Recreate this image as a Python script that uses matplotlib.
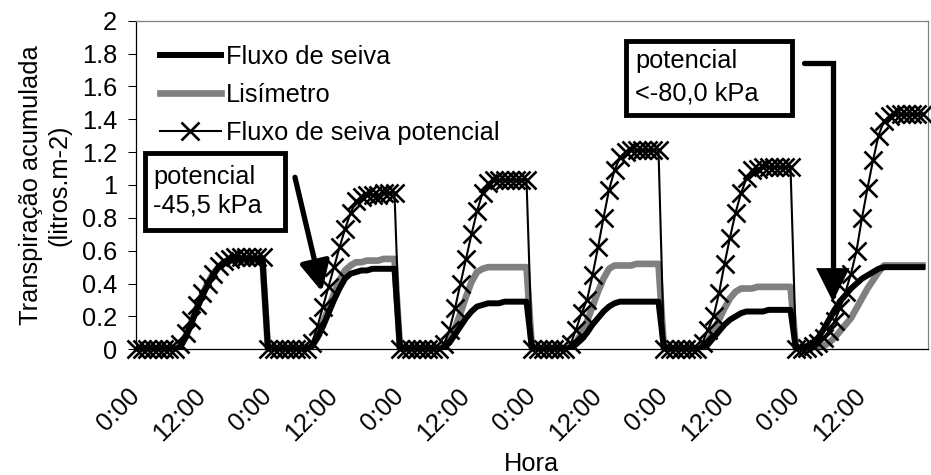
import numpy as np
import matplotlib
matplotlib.use('Agg')
import matplotlib.pyplot as plt
from matplotlib.patches import Rectangle, FancyArrowPatch
from matplotlib.path import Path
from matplotlib.ticker import FuncFormatter

plt.rcParams['font.family'] = 'Liberation Sans'
plt.rcParams['font.size'] = 18.3

# cumulative daily transpiration (litros.m-2), hourly values, 6 days from 0:00
fluxo = [
    0, 0, 0, 0, 0, 0, 0, 0, 0.01, 0.07, 0.15, 0.24, 0.32, 0.39, 0.45, 0.50, 0.53, 0.55, 0.55, 0.55, 0.55, 0.55, 0.55, 0.55,
    0, 0, 0, 0, 0, 0, 0, 0, 0.02, 0.07, 0.14, 0.22, 0.30, 0.37, 0.43, 0.46, 0.47, 0.48, 0.48, 0.49, 0.49, 0.49, 0.49, 0.49,
    0, 0, 0, 0, 0, 0, 0, 0, 0.01, 0.04, 0.09, 0.14, 0.19, 0.23, 0.26, 0.27, 0.28, 0.28, 0.28, 0.29, 0.29, 0.29, 0.29, 0.29,
    0, 0, 0, 0, 0, 0, 0, 0.01, 0.03, 0.06, 0.10, 0.15, 0.19, 0.23, 0.26, 0.28, 0.29, 0.29, 0.29, 0.29, 0.29, 0.29, 0.29, 0.29,
    0, 0, 0, 0, 0, 0, 0, 0.01, 0.03, 0.07, 0.11, 0.15, 0.18, 0.20, 0.22, 0.23, 0.23, 0.23, 0.23, 0.24, 0.24, 0.24, 0.24, 0.24,
    0, 0.01, 0.02, 0.04, 0.07, 0.12, 0.18, 0.24, 0.29, 0.33, 0.37, 0.40, 0.43, 0.45, 0.47, 0.49, 0.50, 0.50, 0.50, 0.50, 0.50, 0.50, 0.50, 0.50,
]
lisimetro = [
    0, 0, 0, 0, 0, 0, 0, 0, 0.02, 0.08, 0.16, 0.25, 0.33, 0.40, 0.46, 0.50, 0.53, 0.54, 0.54, 0.54, 0.54, 0.54, 0.54, 0.54,
    0, 0, 0, 0, 0, 0, 0, 0, 0.02, 0.08, 0.16, 0.25, 0.34, 0.42, 0.48, 0.51, 0.53, 0.53, 0.54, 0.54, 0.54, 0.55, 0.55, 0.55,
    0, 0, 0, 0, 0, 0, 0, 0, 0.02, 0.06, 0.13, 0.22, 0.32, 0.41, 0.47, 0.49, 0.50, 0.50, 0.50, 0.50, 0.50, 0.50, 0.50, 0.50,
    0, 0, 0, 0, 0, 0, 0, 0.01, 0.04, 0.10, 0.17, 0.26, 0.35, 0.43, 0.49, 0.51, 0.51, 0.51, 0.51, 0.52, 0.52, 0.52, 0.52, 0.52,
    0, 0, 0, 0, 0, 0, 0, 0.01, 0.05, 0.11, 0.18, 0.25, 0.31, 0.35, 0.37, 0.37, 0.37, 0.38, 0.38, 0.38, 0.38, 0.38, 0.38, 0.38,
    0, 0, 0, 0, 0, 0.02, 0.04, 0.07, 0.11, 0.15, 0.19, 0.25, 0.31, 0.37, 0.42, 0.47, 0.51, 0.51, 0.51, 0.51, 0.51, 0.51, 0.51, 0.51,
]
potencial = [
    0, 0, 0, 0, 0, 0, 0, 0, 0.03, 0.10, 0.18, 0.27, 0.34, 0.40, 0.46, 0.51, 0.54, 0.55, 0.56, 0.56, 0.56, 0.56, 0.56, 0.56,
    0, 0, 0, 0, 0, 0, 0, 0, 0.04, 0.14, 0.26, 0.38, 0.50, 0.62, 0.73, 0.83, 0.90, 0.93, 0.94, 0.94, 0.94, 0.95, 0.95, 0.95,
    0, 0, 0, 0, 0, 0, 0, 0, 0.03, 0.12, 0.25, 0.40, 0.55, 0.70, 0.84, 0.95, 1.01, 1.03, 1.03, 1.03, 1.03, 1.03, 1.03, 1.03,
    0, 0, 0, 0, 0, 0, 0, 0.03, 0.12, 0.22, 0.30, 0.45, 0.62, 0.80, 0.97, 1.09, 1.17, 1.20, 1.21, 1.21, 1.21, 1.21, 1.21, 1.21,
    0, 0, 0, 0, 0, 0, 0, 0.04, 0.12, 0.20, 0.34, 0.52, 0.68, 0.83, 0.95, 1.04, 1.09, 1.10, 1.11, 1.11, 1.11, 1.11, 1.11, 1.11,
    0, 0, 0.01, 0.02, 0.04, 0.07, 0.11, 0.17, 0.25, 0.35, 0.46, 0.60, 0.80, 0.98, 1.15, 1.30, 1.39, 1.42, 1.43, 1.43, 1.43, 1.43, 1.43, 1.43,
]
hora_labels = ['0:00', '12:00'] * 6

hours = np.arange(len(fluxo))

fig = plt.figure(figsize=(9.31, 4.75), dpi=100)
ax = fig.add_axes([136 / 931, 1 - 349.3 / 475, 792 / 931, 328.6 / 475])

l_lis, = ax.plot(hours, lisimetro, color='#808080', lw=4.8, label='Lisímetro', zorder=2)
l_pot, = ax.plot(hours, potencial, color='black', lw=1.5, marker='x', ms=13.5, mew=1.9,
                 label='Fluxo de seiva potencial', zorder=3, clip_on=False)
l_flu, = ax.plot(hours, fluxo, color='black', lw=4.3, label='Fluxo de seiva', zorder=4)

ax.set_xlim(0, 144)
ax.set_ylim(0, 2)
ax.set_yticks(np.arange(0, 2.01, 0.2))
ax.yaxis.set_major_formatter(FuncFormatter(lambda v, p: f'{v:g}'))
ax.tick_params(axis='y', direction='out', length=5.5, width=0.75, pad=8)

ax.set_xticks(np.arange(0, 144, 12), hora_labels, rotation=45, ha='right',
              va='center', rotation_mode='anchor')
ax.set_xticks(np.arange(12, 144, 24), minor=True)
ax.tick_params(axis='x', which='major', length=0, pad=31)
ax.tick_params(axis='x', which='minor', direction='out', length=5, width=0.75)

for s in ['left', 'bottom']:
    ax.spines[s].set_color('black')
    ax.spines[s].set_linewidth(0.9)
for s in ['top', 'right']:
    ax.spines[s].set_color('#808080')
    ax.spines[s].set_linewidth(0.9)

ax.legend(handles=[l_flu, l_lis, l_pot], loc='upper left', bbox_to_anchor=(0.030, 0.925),
          frameon=False, borderpad=0, borderaxespad=0, handlelength=2.4,
          handletextpad=0.2, labelspacing=0.55)

# annotation boxes with soil water potential
ax.add_patch(Rectangle((1.6, 0.726), 25.5, 0.469, fc='white', ec='black', lw=3.5, zorder=5))
ax.text(3.15, 1.006, 'potencial', va='baseline', ha='left', zorder=6)
ax.text(3.15, 0.830, '-45,5 kPa', va='baseline', ha='left', zorder=6)

ax.add_patch(Rectangle((89.1, 1.426), 30.2, 0.452, fc='white', ec='black', lw=3.5, zorder=5))
ax.text(90.7, 1.713, 'potencial', va='baseline', ha='left', zorder=6)
ax.text(90.7, 1.517, '<-80,0 kPa', va='baseline', ha='left', zorder=6)

arr1 = FancyArrowPatch((28.9, 1.047), (33.8, 0.351),
                       arrowstyle='-|>,head_length=0.9,head_width=0.45', mutation_scale=20,
                       lw=3.8, color='black', shrinkA=0, shrinkB=0, zorder=6)
ax.add_patch(arr1)

arr_path = Path([(121.5, 1.741), (126.7, 1.741), (126.7, 0.29)],
                [Path.MOVETO, Path.LINETO, Path.LINETO])
arr2 = FancyArrowPatch(path=arr_path, arrowstyle='-|>,head_length=0.9,head_width=0.45',
                       mutation_scale=20, lw=3.8, color='black', joinstyle='miter', zorder=6)
ax.add_patch(arr2)

fig.text(45 / 931, 1 - 185 / 475, 'Transpiração acumulada\n(litros.m-2)', rotation=90,
         ha='center', va='center', multialignment='center', linespacing=1.2)
fig.text(532 / 931, 1 - 464 / 475, 'Hora', ha='center', va='center')

fig.savefig('out.png', dpi=100, facecolor='white')
